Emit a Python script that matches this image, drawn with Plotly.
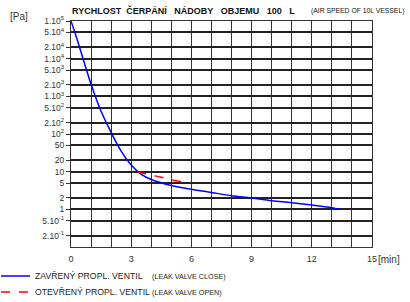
import plotly.graph_objects as go

# data
closed_t = [0, 0.25, 0.5, 0.75, 1, 1.5, 2, 2.5, 3, 3.5, 4, 5, 6, 7, 8, 9, 10, 11, 12, 13, 13.4]
closed_p = [1e5, 4e4, 1.5e4, 5.5e3, 2.1e3, 4e2, 1.1e2, 35, 15, 8.5, 6.2, 4.3, 3.4, 2.8, 2.3, 2.0, 1.7, 1.5, 1.3, 1.1, 1.0]
open_t = [3.3, 3.7, 4, 4.5, 5, 5.5, 5.8]
open_p = [10, 8.8, 8.1, 7.1, 6.1, 5.4, 5.0]

y_tickvals = [1e5, 5e4, 2e4, 1e4, 5e3, 2e3, 1e3, 5e2, 2e2, 1e2, 50, 20, 10, 5, 2, 1, 0.5, 0.2]
y_ticktext = ["1.10<sup>5</sup>", "5.10<sup>4</sup>", "2.10<sup>4</sup>", "1.10<sup>4</sup>",
              "5.10<sup>3</sup>", "2.10<sup>3</sup>", "1.10<sup>3</sup>", "5.10<sup>2</sup>",
              "2.10<sup>2</sup>", "10<sup>2</sup>", "50", "20", "10", "5", "2", "1",
              "5.10<sup>-1</sup>", "2.10<sup>-1</sup>"]
x_tickvals = [0, 3, 6, 9, 12, 15]
x_ticktext = ["0", "3", "6", "9", "12", "15"]
legend_cz = ["ZAVŘENÝ PROPL. VENTIL", "OTEVŘENÝ PROPL. VENTIL"]
legend_en = ["(LEAK VALVE CLOSE)", "(LEAK VALVE OPEN)"]

FONT = "Liberation Sans"
W, H = 410, 302
ML, MR, MT, MB = 71, 38, 21, 55
PW, PH = W - ML - MR, H - MT - MB

fig = go.Figure()
fig.add_trace(go.Scatter(
    x=closed_t, y=closed_p, mode="lines", line=dict(color="#0000ff", width=1.5, shape="spline"),
    name=legend_cz[0]))
fig.add_trace(go.Scatter(
    x=open_t, y=open_p, mode="lines", line=dict(color="#ff0000", width=1.5, dash="dash", shape="spline"),
    name=legend_cz[1]))

fig.update_layout(
    width=W, height=H,
    margin=dict(l=ML, r=MR, t=MT, b=MB, autoexpand=False),
    paper_bgcolor="white", plot_bgcolor="white",
    font=dict(family=FONT, size=9, color="#222"),
    showlegend=False,
)
fig.update_xaxes(range=[0, 15], tickvals=list(range(16)),
                 ticktext=[x_ticktext[x_tickvals.index(v)] if v in x_tickvals else "" for v in range(16)],
                 showgrid=True, gridcolor="#333", gridwidth=1.3,
                 showline=True, linecolor="#333", linewidth=1.3, mirror=True,
                 ticks="outside", ticklen=3, tickcolor="rgba(0,0,0,0)",
                 zeroline=False, tickfont=dict(size=9, color="#333"))
fig.update_yaxes(type="log", range=[-1, 5], tickvals=y_tickvals, ticktext=y_ticktext,
                 showgrid=True, gridcolor="#222", gridwidth=1.5,
                 showline=True, linecolor="#333", linewidth=1.3, mirror=True,
                 ticks="outside", ticklen=4, tickcolor="#333", zeroline=False,
                 tickfont=dict(size=8.5, color="#333"))

fig.add_annotation(xref="paper", yref="paper", x=0, y=1, xshift=-1, yshift=3,
                   xanchor="left", yanchor="bottom", showarrow=False,
                   text="<b>RYCHLOST&nbsp; ČERPÁNÍ&nbsp;&nbsp; NÁDOBY&nbsp;&nbsp; OBJEMU&nbsp;&nbsp; 100&nbsp;&nbsp; L</b>",
                   font=dict(size=9, family=FONT, color="#111"))
fig.add_annotation(xref="paper", yref="paper", x=1, y=1, xshift=34, yshift=4,
                   xanchor="right", yanchor="bottom", showarrow=False,
                   text="(AIR SPEED OF 10L VESSEL)", font=dict(size=6.8, family=FONT, color="#111"))
fig.add_annotation(xref="paper", yref="paper", x=0, y=1, xshift=-41, yshift=-3,
                   xanchor="right", yanchor="bottom", showarrow=False,
                   text="[Pa]", font=dict(size=10, family=FONT, color="#333"))
fig.add_annotation(xref="paper", yref="paper", x=1, y=0, xshift=4, yshift=-5,
                   xanchor="left", yanchor="top", showarrow=False,
                   text="[min]", font=dict(size=10, family=FONT, color="#333"))

# legend (manual)
leg_y = [276, 292]
leg_col = ["#0000ff", "#ff0000"]
leg_dash = ["solid", "dash"]
for i in range(2):
    ypaper = (H - MB - leg_y[i]) / PH
    fig.add_shape(type="line", xref="paper", yref="paper",
                  x0=(1 - ML) / PW, x1=(30 - ML) / PW, y0=ypaper, y1=ypaper,
                  line=dict(color=leg_col[i], width=1.5, dash=leg_dash[i]))
    fig.add_annotation(xref="paper", yref="paper", x=(33 - ML) / PW, y=ypaper,
                       xanchor="left", yanchor="middle", showarrow=False,
                       text=legend_cz[i], font=dict(size=8.7, family=FONT, color="#222"))
    fig.add_annotation(xref="paper", yref="paper", x=(150 - ML) / PW, y=ypaper,
                       xanchor="left", yanchor="middle", showarrow=False,
                       text=legend_en[i], font=dict(size=7.2, family=FONT, color="#222"))

fig.write_html("out.html", config={"displayModeBar": False},
               post_script="document.body.style.margin='0';document.body.style.overflow='hidden';")
